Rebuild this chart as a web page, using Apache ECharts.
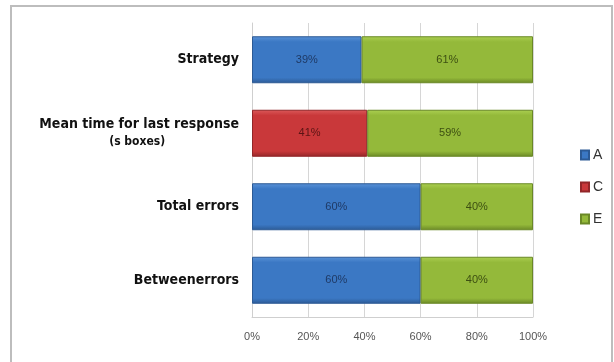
<!DOCTYPE html>
<html>
<head>
<meta charset="utf-8">
<script src="https://cdn.jsdelivr.net/npm/echarts@6/dist/echarts.min.js"></script>
<style>html,body{margin:0;padding:0;background:#fff}#c{width:614px;height:362px}</style>
</head>
<body>
<div id="c"></div>
<script>
var categories = ['Betweenerrors', 'Total errors', 'Mean time for last response\n(s boxes)', 'Strategy'];
var seriesNames = ['A', 'C', 'E'];
var valuesA = [60, 60, '-', 39];
var valuesC = ['-', '-', 41, '-'];
var valuesE = [40, 40, 59, 61];
var xTicks = [0, 20, 40, 60, 80, 100];

var colors = ['#3b78c4', '#c9383a', '#94b93a'];
var topColors = ['#5a93d8', '#dc5a5b', '#acd052'];
var edgeColors = ['#2c5a95', '#922628', '#6a8826'];
var labelColors = ['#1f3a66', '#5a1414', '#3d4f12'];
var dataSets = [valuesA, valuesC, valuesE];

function grad(i) {
  return new echarts.graphic.LinearGradient(0, 0, 0, 1, [
    {offset: 0, color: topColors[i]},
    {offset: 0.12, color: colors[i]},
    {offset: 0.88, color: colors[i]},
    {offset: 1, color: edgeColors[i]}
  ]);
}

var chart = echarts.init(document.getElementById('c'), null, {renderer: 'canvas'});
var series = seriesNames.map(function (n, i) {
  return {
    name: n,
    type: 'bar',
    stack: 'total',
    barWidth: 47,
    data: dataSets[i],
    itemStyle: {color: grad(i), borderColor: edgeColors[i], borderWidth: 1},
    label: {
      show: true,
      position: 'inside',
      formatter: '{c}%',
      color: labelColors[i],
      fontFamily: 'Liberation Sans Narrow, Liberation Sans, sans-serif',
      fontSize: 11
    }
  };
});

chart.setOption({
  animation: false,
  color: colors,
  graphic: [{
    type: 'rect',
    shape: {x: 11, y: 6, width: 601, height: 370},
    style: {fill: 'none', stroke: '#bdbdbd', lineWidth: 2},
    silent: true
  }],
  legend: {
    orient: 'vertical',
    left: 575,
    top: 143,
    itemWidth: 8,
    itemHeight: 9,
    itemGap: 18,
    icon: 'rect',
    textStyle: {fontSize: 14, color: '#333', fontFamily: 'Liberation Sans', padding: [0, 0, 0, -1]},
    data: seriesNames.map(function (n, i) {
      return {name: n, itemStyle: {color: colors[i]}};
    })
  },
  grid: {left: 252, right: 81, top: 23, bottom: 45, containLabel: false},
  xAxis: {
    type: 'value',
    min: xTicks[0],
    max: xTicks[xTicks.length - 1],
    interval: 20,
    axisLine: {show: true, lineStyle: {color: '#cfcfcf'}},
    axisTick: {show: false},
    splitLine: {show: true, lineStyle: {color: '#d6d6d6'}},
    axisLabel: {
      formatter: '{value}%',
      margin: 14,
      fontSize: 11,
      color: '#555',
      fontFamily: 'Liberation Sans Narrow, Liberation Sans, sans-serif'
    }
  },
  yAxis: {
    type: 'category',
    data: categories,
    axisLine: {show: true, lineStyle: {color: '#cfcfcf'}},
    axisTick: {show: false},
    axisLabel: {
      margin: 13,
      color: '#111',
      align: 'right',
      formatter: function (v) {
        var parts = v.split('\n');
        if (parts.length > 1) return '{a|' + parts[0] + '}\n{b|' + parts[1] + '}';
        return '{a|' + v + '}';
      },
      rich: {
        a: {fontSize: 14, fontWeight: 'bold', fontFamily: 'DejaVu Sans Condensed, DejaVu Sans', color: '#111', lineHeight: 18, align: 'right'},
        b: {fontSize: 12, fontWeight: 'bold', fontFamily: 'DejaVu Sans Condensed, DejaVu Sans', color: '#111', lineHeight: 17, align: 'center', padding: [0, 4, 0, 0]}
      }
    }
  },
  series: series
});
</script>
</body>
</html>
